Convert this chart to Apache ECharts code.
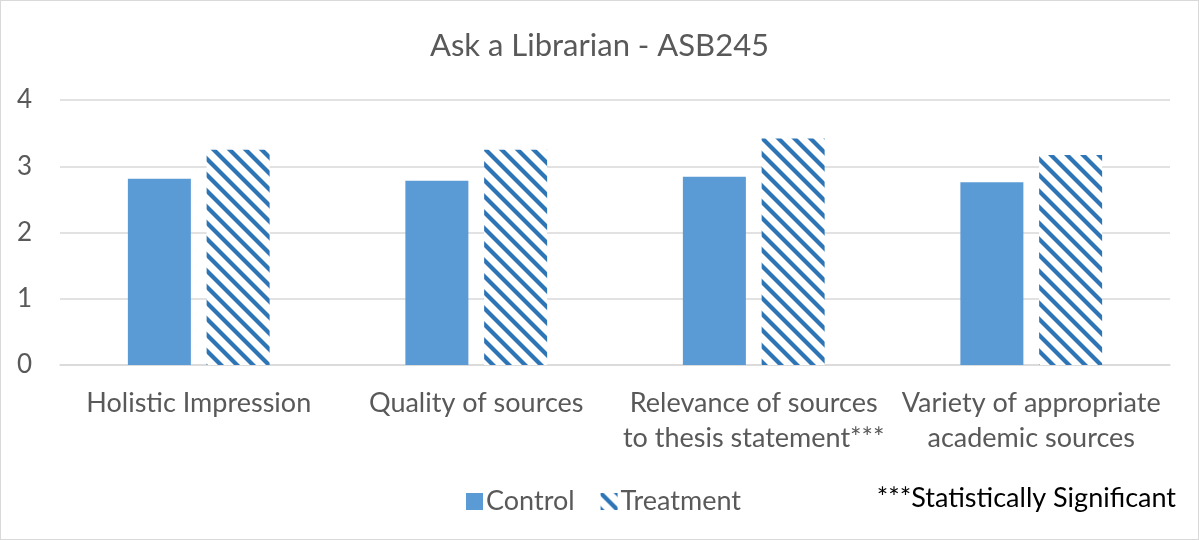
<!DOCTYPE html>
<html><head><meta charset="utf-8">
<script src="https://cdn.jsdelivr.net/npm/echarts@6/dist/echarts.min.js"></script>
<style>
html,body{margin:0;padding:0;background:#fff;}
#c{width:1197px;height:538px;border:1px solid #D9D9D9;}
</style></head><body>
<div id="c"></div>
<script>
const categories = ['Holistic Impression', 'Quality of sources', 'Relevance of sources\nto thesis statement***', 'Variety of appropriate\nacademic sources'];
const controlValues = [2.81, 2.78, 2.84, 2.76];
const treatmentValues = [3.25, 3.25, 3.42, 3.17];
const yTicks = [0, 1, 2, 3, 4];

function makePattern() {
  const s = 16;
  const cv = document.createElement('canvas');
  cv.width = s; cv.height = s;
  const ctx = cv.getContext('2d');
  ctx.fillStyle = '#ffffff';
  ctx.fillRect(0, 0, s, s);
  ctx.strokeStyle = '#2E75B6';
  ctx.lineWidth = 4.2;
  for (const x0 of [-s, 0, s]) {
    ctx.beginPath();
    ctx.moveTo(x0 - 2, -2);
    ctx.lineTo(x0 + s + 2, s + 2);
    ctx.stroke();
  }
  return cv;
}
const pattern = makePattern();

const chart = echarts.init(document.getElementById('c'), null, {renderer: 'canvas'});
const FONT = 'Lato, "Open Sans", sans-serif';
chart.setOption({
  animation: false,
  textStyle: {fontFamily: FONT},
  title: {
    text: 'Ask a Librarian - ASB245', left: 'center', top: 24,
    textStyle: {fontFamily: FONT, fontSize: 31, fontWeight: 'normal', color: '#595959'}
  },
  grid: {left: 59, right: 28, top: 99, bottom: 174, containLabel: false},
  legend: {
    left: 460, top: 482, itemWidth: 17, itemHeight: 17, itemGap: 26,
    icon: 'rect',
    textStyle: {fontFamily: FONT, fontSize: 27, color: '#595959', padding: [0, 0, 0, -2]},
    data: ['Control', 'Treatment']
  },
  xAxis: {
    type: 'category', data: categories,
    axisLine: {lineStyle: {color: '#D9D9D9', width: 1.5}},
    axisTick: {show: false},
    axisLabel: {fontFamily: FONT, fontSize: 27, color: '#595959', margin: 21, lineHeight: 35, interval: 0}
  },
  yAxis: {
    type: 'value', min: 0, max: 4, interval: 1,
    axisLine: {show: false}, axisTick: {show: false},
    splitLine: {lineStyle: {color: '#D9D9D9', width: 1.5}},
    axisLabel: {fontFamily: FONT, fontSize: 26, color: '#595959', margin: 28,
      formatter: v => yTicks.includes(v) ? String(v) : ''}
  },
  series: [
    {name: 'Control', type: 'bar', data: controlValues, barWidth: 63, barGap: '25%',
     itemStyle: {color: '#5B9BD5'}},
    {name: 'Treatment', type: 'bar', data: treatmentValues, barWidth: 63,
     itemStyle: {color: {image: pattern, repeat: 'repeat'}}}
  ],
  graphic: [{
    type: 'text', right: 22, top: 484,
    style: {text: '***Statistically Significant', fontFamily: FONT, fontSize: 27, fill: '#000000'}
  }]
});
</script>
</body></html>
